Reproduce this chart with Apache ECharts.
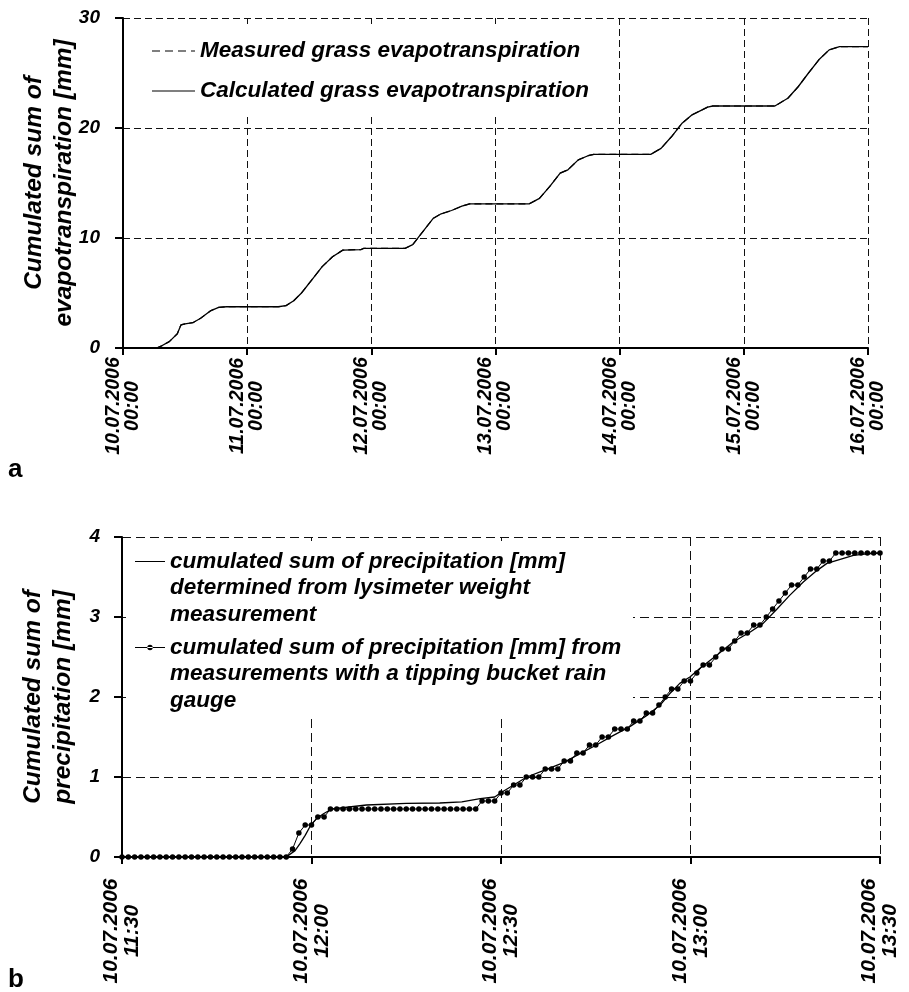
<!DOCTYPE html>
<html><head><meta charset="utf-8">
<script src="https://cdn.jsdelivr.net/npm/echarts@6/dist/echarts.min.js"></script>
<style>html,body{margin:0;padding:0;background:#fff}#c{width:909px;height:992px}</style>
</head><body><div id="c"></div>
<script>
const FONT = '"Liberation Sans", Arial, Helvetica, sans-serif';

// ---------- Chart a: cumulated evapotranspiration ----------
const xLabelsA = ['10.07.2006\n00:00','11.07.2006\n00:00','12.07.2006\n00:00','13.07.2006\n00:00','14.07.2006\n00:00','15.07.2006\n00:00','16.07.2006\n00:00'];
const yTicksA = [0, 10, 20, 30];
const seriesNamesA = ['Measured grass evapotranspiration', 'Calculated grass evapotranspiration'];
// hours since 10.07.2006 00:00
const evapHours = [0,6.5,7.5,9,10.5,11.2,12,13.5,15,17,18.5,20,24,30,31.5,33,34.5,36.5,38.5,40.5,42.5,46,46.5,48,54.5,56,57.5,60,61.5,63.5,65.5,67,72,78.5,80.5,82.5,84.5,86,88,90,91,96,102,104,106,108,110,113,114,120,126,128.5,130.5,132.5,134.5,136.5,138.5,144];
const measuredEvap = [0,0,0.2,0.6,1.3,2.1,2.2,2.3,2.7,3.4,3.7,3.75,3.75,3.75,3.85,4.3,5.0,6.2,7.4,8.3,8.9,8.95,9.05,9.05,9.05,9.4,10.3,11.8,12.2,12.5,12.9,13.1,13.1,13.1,13.6,14.7,15.9,16.2,17.1,17.5,17.6,17.6,17.6,18.15,19.2,20.4,21.2,21.9,22.0,22.0,22.0,22.7,23.75,25.0,26.2,27.1,27.4,27.4];
const calculatedEvap = [0,0,0.2,0.6,1.3,2.1,2.2,2.3,2.7,3.4,3.7,3.75,3.75,3.75,3.85,4.3,5.0,6.2,7.4,8.3,8.9,8.95,9.05,9.05,9.05,9.4,10.3,11.8,12.2,12.5,12.9,13.1,13.1,13.1,13.6,14.7,15.9,16.2,17.1,17.5,17.6,17.6,17.6,18.15,19.2,20.4,21.2,21.9,22.0,22.0,22.0,22.7,23.75,25.0,26.2,27.1,27.4,27.4];

// ---------- Chart b: cumulated precipitation ----------
const xLabelsB = ['10.07.2006\n11:30','10.07.2006\n12:00','10.07.2006\n12:30','10.07.2006\n13:00','10.07.2006\n13:30'];
const yTicksB = [0, 1, 2, 3, 4];
const seriesNamesB = ['cumulated sum of precipitation [mm]\ndetermined from lysimeter weight\nmeasurement',
                      'cumulated sum of precipitation [mm] from\nmeasurements with a tipping bucket rain\ngauge'];
// minutes since 11:30
const lysiMinutes = [0,26,27.4,28.2,29,29.9,30.8,31.9,33.2,38.7,45,50.3,53.8,56.7,59,60.1,62,64.1,66.7,69.9,72,75.1,77.8,80.4,83.1,85.2,86.7,88.3,89.9,91.5,94.1,96.8,99.4,101.5,103.7,105.7,107.9,110,111.6,113.7,115.8,117.9,120];
const lysiValues = [0,0,0.08,0.17,0.27,0.4,0.48,0.54,0.6,0.65,0.67,0.675,0.69,0.73,0.75,0.81,0.9,1.0,1.08,1.18,1.27,1.4,1.52,1.63,1.77,1.9,2.04,2.17,2.25,2.36,2.52,2.69,2.81,2.92,3.1,3.27,3.44,3.58,3.67,3.72,3.77,3.79,3.8];
// one reading per minute from 11:30 to 13:30
const tippingValues = [
  0,0,0,0,0,0,0,0,0,0, 0,0,0,0,0,0,0,0,0,0, 0,0,0,0,0,0,0,
  0.1,0.3,0.4,0.4,0.5,0.5,
  0.6,0.6,0.6,0.6,0.6,0.6,0.6,0.6,0.6,0.6,0.6,0.6,0.6,0.6,0.6,0.6,0.6,0.6,0.6,0.6,0.6,0.6,0.6,0.6,
  0.7,0.7,0.7, 0.8,0.8, 0.9,0.9, 1.0,1.0,1.0, 1.1,1.1,1.1, 1.2,1.2, 1.3,1.3, 1.4,1.4, 1.5,1.5,
  1.6,1.6,1.6, 1.7,1.7, 1.8,1.8, 1.9, 2.0, 2.1,2.1, 2.2,2.2, 2.3, 2.4,2.4, 2.5, 2.6,2.6, 2.7,
  2.8,2.8, 2.9,2.9, 3.0, 3.1, 3.2, 3.3, 3.4,3.4, 3.5, 3.6,3.6, 3.7,3.7,
  3.8,3.8,3.8,3.8,3.8,3.8,3.8,3.8
];

const pairs = (xs, ys) => xs.map((x, i) => [x, ys[i]]);

const lblStyle = {color:'#000', fontFamily: FONT, fontWeight:'bold', fontStyle:'italic'};
const dashA = [7, 4], dashB = [9, 5];

function iconPath(W, H, body) {
  return 'path://M0,0 h0.01 v0.01 h-0.01 Z M' + (W - 0.01) + ',' + (H - 0.01) + ' h0.01 v0.01 h-0.01 Z ' + body;
}
const iconDashA = iconPath(43, 24, 'M0,11.4 h8 v1.2 h-8 Z M13,11.4 h8 v1.2 h-8 Z M26,11.4 h8 v1.2 h-8 Z M39,11.4 h4 v1.2 h-4 Z');
const iconSolidA = iconPath(43, 24, 'M0,11.4 h43 v1.2 h-43 Z');
const iconSolidB = iconPath(30, 80, 'M0,12.9 h30 v1.2 h-30 Z');
const iconDotB = iconPath(30, 80, 'M0,12.9 h30 v1.2 h-30 Z M12.3,13.5 A2.7,2.7 0 1,0 17.7,13.5 A2.7,2.7 0 1,0 12.3,13.5 Z');

const chart = echarts.init(document.getElementById('c'), null, {renderer:'canvas'});
chart.setOption({
  animation: false,
  backgroundColor: '#fff',
  title: [
    {text:'a', left: 8, top: 457, padding: 0, textStyle:{fontSize: 26, fontWeight:'bold', color:'#000', fontFamily: FONT}},
    {text:'b', left: 8, top: 967, padding: 0, textStyle:{fontSize: 26, fontWeight:'bold', color:'#000', fontFamily: FONT}}
  ],
  grid: [
    {left: 123, top: 18, width: 745, height: 330, containLabel: false},
    {left: 122, top: 537, width: 758, height: 320, containLabel: false}
  ],
  graphic: [
    {type:'rect', z: 1, silent: true, shape:{x:138, y:24, width:462, height:89}, style:{fill:'#fff'}},
    {type:'rect', z: 1, silent: true, shape:{x:126, y:541, width:507, height:178}, style:{fill:'#fff'}}
  ],
  legend: [
    {
      data: [{name: seriesNamesA[0], icon: iconDashA}, {name: seriesNamesA[1], icon: iconSolidA}],
      orient:'vertical', left: 152, top: 39, padding: 0, itemWidth: 43, itemHeight: 24, itemGap: 16,
      selectedMode: false, itemStyle:{borderWidth:0},
      textStyle: Object.assign({fontSize: 22.5, lineHeight: 24}, lblStyle)
    },
    {
      data: [{name: seriesNamesB[0], icon: iconSolidB}, {name: seriesNamesB[1], icon: iconDotB}],
      orient:'vertical', left: 135, top: 548, padding: 0, itemWidth: 30, itemHeight: 80, itemGap: 6,
      selectedMode: false, itemStyle:{borderWidth:0},
      textStyle: Object.assign({fontSize: 22.5, lineHeight: 26.5}, lblStyle)
    }
  ],
  xAxis: [
    {
      type:'value', gridIndex: 0, min: 0, max: 144, interval: 24,
      axisLine:{show:true, onZero:false, lineStyle:{color:'#000', width:2}},
      axisTick:{show:true, length:7, lineStyle:{color:'#000', width:2}},
      splitLine:{show:true, lineStyle:{color:'#111', width:1, type: dashA}},
      axisLabel: Object.assign({
        fontSize: 19.5, lineHeight: 19, padding:[4,0,0,0], rotate: 90, align:'center', verticalAlign:'middle', margin: 58,
        formatter: v => xLabelsA[Math.round(v / 24)] || ''
      }, lblStyle)
    },
    {
      type:'value', gridIndex: 1, min: 0, max: 120, interval: 30,
      axisLine:{show:true, onZero:false, lineStyle:{color:'#000', width:2}},
      axisTick:{show:true, length:7, lineStyle:{color:'#000', width:2}},
      splitLine:{show:true, lineStyle:{color:'#111', width:1, type: dashB}},
      axisLabel: Object.assign({
        fontSize: 21, lineHeight: 21, padding:[4,0,0,0], rotate: 90, align:'center', verticalAlign:'middle', margin: 74,
        formatter: v => xLabelsB[Math.round(v / 30)] || ''
      }, lblStyle)
    }
  ],
  yAxis: [
    {
      type:'value', gridIndex: 0, min: yTicksA[0], max: yTicksA[yTicksA.length-1], interval: 10,
      axisLine:{show:true, lineStyle:{color:'#000', width:2}},
      axisTick:{show:true, length:8, lineStyle:{color:'#000', width:2}},
      splitLine:{show:true, lineStyle:{color:'#111', width:1, type: dashA}},
      axisLabel: Object.assign({fontSize: 19, margin: 23}, lblStyle),
      name: 'Cumulated sum of\nevapotranspiration [mm]', nameLocation:'middle', nameRotate: 90, nameGap: 44,
      nameMoveOverlap: false,
      nameTextStyle: Object.assign({fontSize: 24.5, lineHeight: 30}, lblStyle)
    },
    {
      type:'value', gridIndex: 1, min: yTicksB[0], max: yTicksB[yTicksB.length-1], interval: 1,
      axisLine:{show:true, lineStyle:{color:'#000', width:2}},
      axisTick:{show:true, length:8, lineStyle:{color:'#000', width:2}},
      splitLine:{show:true, lineStyle:{color:'#111', width:1, type: dashB}},
      axisLabel: Object.assign({fontSize: 19, margin: 22}, lblStyle),
      name: 'Cumulated sum of\nprecipitation [mm]', nameLocation:'middle', nameRotate: 90, nameGap: 44,
      nameMoveOverlap: false,
      nameTextStyle: Object.assign({fontSize: 24.5, lineHeight: 30}, lblStyle)
    }
  ],
  series: [
    {
      name: seriesNamesA[0], type:'line', xAxisIndex:0, yAxisIndex:0, symbol:'none',
      data: pairs(evapHours, measuredEvap),
      itemStyle:{color:'#000'}, lineStyle:{color:'#000', width:1.2, type: dashA}
    },
    {
      name: seriesNamesA[1], type:'line', xAxisIndex:0, yAxisIndex:0, symbol:'none',
      data: pairs(evapHours, calculatedEvap),
      itemStyle:{color:'#000'}, lineStyle:{color:'#000', width:1.3}
    },
    {
      name: seriesNamesB[0], type:'line', xAxisIndex:1, yAxisIndex:1, symbol:'none',
      data: pairs(lysiMinutes, lysiValues),
      itemStyle:{color:'#000'}, lineStyle:{color:'#000', width:1.3}
    },
    {
      name: seriesNamesB[1], type:'line', xAxisIndex:1, yAxisIndex:1,
      symbol:'circle', symbolSize: 5.5, showSymbol: true,
      data: tippingValues.map((v, i) => [i, v]),
      itemStyle:{color:'#000'}, lineStyle:{color:'#000', width:1}
    }
  ]
});
</script>
</body></html>
